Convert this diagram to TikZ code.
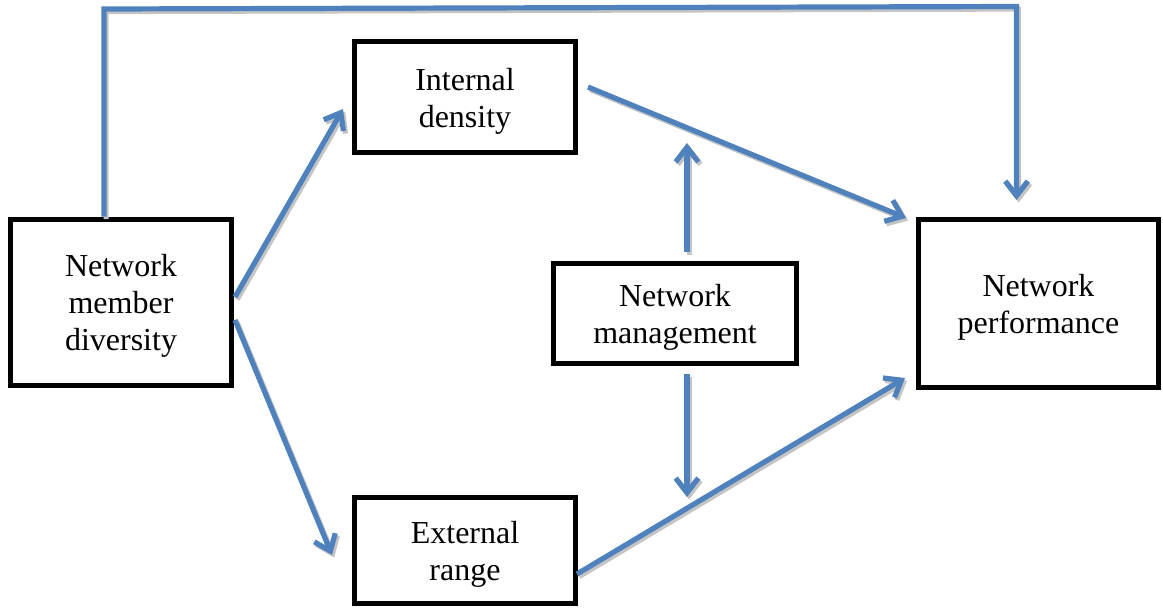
\documentclass[tikz,border=0pt]{standalone}
\usepackage{fontspec}
\setmainfont{Liberation Serif}
\usetikzlibrary{arrows.meta,calc}
\definecolor{arrblue}{HTML}{4F81BD}
\definecolor{shadowgray}{HTML}{C4C4C4}
\newcommand\shconn[2]{%
  \begin{scope}[transform canvas={shift={(1.6pt,-1.9pt)}}]\draw[#1,draw=shadowgray] #2;\end{scope}%
  \draw[#1] #2;}
\newcommand\tstrut{\rule{0pt}{22.5pt}}
\begin{document}
\begin{tikzpicture}[x=0.75pt,y=-0.75pt,
  box/.style={draw=black,line width=3.75pt,fill=white,align=center,inner sep=0pt,
    font=\fontsize{24}{27.75}\selectfont},
  arr/.style={draw=arrblue,line width=3.9pt,line join=miter,
    -{Straight Barb[length=11pt,width=17pt]}}]
\useasboundingbox (0,0) rectangle (1163,607);
\node[box,minimum width=165.75pt,minimum height=124.5pt] (div) at (121,302) {\tstrut Network\\member\\diversity};
\node[box,minimum width=165.75pt,minimum height=83.25pt] (int) at (465,97) {\tstrut Internal\\density};
\node[box,minimum width=165.75pt,minimum height=79.5pt] (ext) at (465,550) {\tstrut External\\range};
\node[box,minimum width=182.25pt,minimum height=75pt] (mgt) at (675,313.5) {\tstrut Network\\management};
\node[box,minimum width=180pt,minimum height=126pt] (perf) at (1038.5,303.5) {\tstrut Network\\performance};
% connectors
\shconn{arr}{($(div.north)+(-17,0)$) -- ($(div.north)+(-17,-207.5)$)
  -- ($(perf.north)+(-22,-210.5)$) -- ($(perf.north)+(-22,-17)$)}
\shconn{arr}{($(div.east)+(1,-5)$) -- ($(int.west)+(-9,12)$)}
\shconn{arr}{($(div.east)+(1,18)$) -- ($(ext.west)+(-20,5)$)}
\shconn{arr}{($(int.east)+(10,-10)$) -- ($(perf.north west)+(-10,1)$)}
\shconn{arr}{($(ext.east)+(-1,24)$) -- ($(perf.south west)+(-11,-12)$)}
\shconn{arr}{($(mgt.north)+(12,-9)$) -- ($(mgt.north)+(12,-118)$)}
\shconn{arr}{($(mgt.south)+(12,8)$) -- ($(mgt.south)+(12,131)$)}
\end{tikzpicture}
\end{document}
